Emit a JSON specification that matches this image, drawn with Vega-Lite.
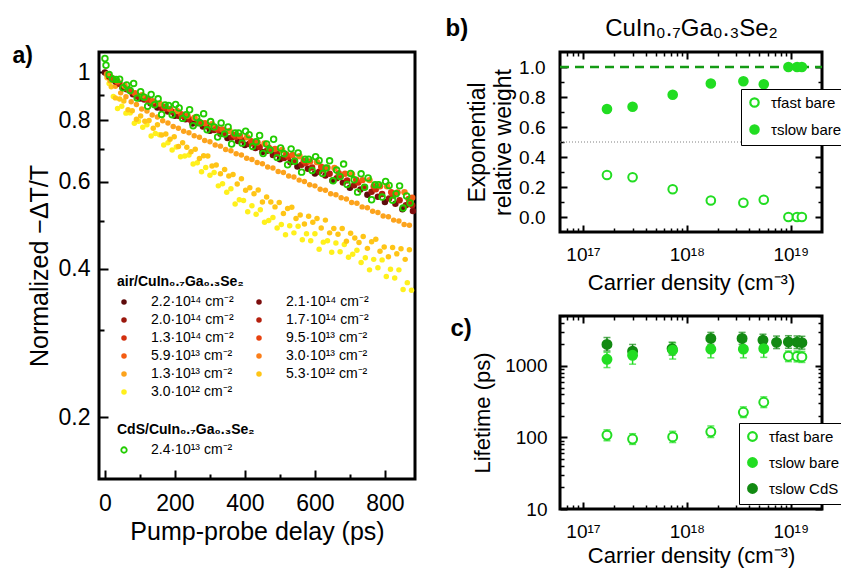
{
"$schema": "https://vega.github.io/schema/vega-lite/v6.json",
"background": "white",
"padding": {"left": 10, "top": 14, "right": 2, "bottom": 2},
"datasets": {
"air": [
{"s":"3.0e12","t":0,"v":1.0},{"s":"3.0e12","t":12,"v":0.95},{"s":"3.0e12","t":24,"v":0.894},{"s":"3.0e12","t":36,"v":0.845},{"s":"3.0e12","t":48,"v":0.854},{"s":"3.0e12","t":60,"v":0.827},{"s":"3.0e12","t":72,"v":0.828},{"s":"3.0e12","t":84,"v":0.789},{"s":"3.0e12","t":96,"v":0.796},{"s":"3.0e12","t":108,"v":0.774},{"s":"3.0e12","t":120,"v":0.783},{"s":"3.0e12","t":132,"v":0.743},{"s":"3.0e12","t":144,"v":0.752},{"s":"3.0e12","t":156,"v":0.748},{"s":"3.0e12","t":168,"v":0.713},{"s":"3.0e12","t":180,"v":0.72},{"s":"3.0e12","t":192,"v":0.696},{"s":"3.0e12","t":204,"v":0.706},{"s":"3.0e12","t":216,"v":0.675},{"s":"3.0e12","t":228,"v":0.677},{"s":"3.0e12","t":240,"v":0.68},{"s":"3.0e12","t":252,"v":0.652},{"s":"3.0e12","t":264,"v":0.656},{"s":"3.0e12","t":276,"v":0.629},{"s":"3.0e12","t":288,"v":0.642},{"s":"3.0e12","t":300,"v":0.619},{"s":"3.0e12","t":312,"v":0.627},{"s":"3.0e12","t":324,"v":0.589},{"s":"3.0e12","t":336,"v":0.595},{"s":"3.0e12","t":348,"v":0.572},{"s":"3.0e12","t":360,"v":0.581},{"s":"3.0e12","t":372,"v":0.541},{"s":"3.0e12","t":384,"v":0.552},{"s":"3.0e12","t":396,"v":0.55},{"s":"3.0e12","t":408,"v":0.522},{"s":"3.0e12","t":420,"v":0.537},{"s":"3.0e12","t":432,"v":0.516},{"s":"3.0e12","t":444,"v":0.527},{"s":"3.0e12","t":456,"v":0.497},{"s":"3.0e12","t":468,"v":0.501},{"s":"3.0e12","t":480,"v":0.508},{"s":"3.0e12","t":492,"v":0.484},{"s":"3.0e12","t":504,"v":0.492},{"s":"3.0e12","t":516,"v":0.469},{"s":"3.0e12","t":528,"v":0.489},{"s":"3.0e12","t":540,"v":0.473},{"s":"3.0e12","t":552,"v":0.488},{"s":"3.0e12","t":564,"v":0.458},{"s":"3.0e12","t":576,"v":0.471},{"s":"3.0e12","t":588,"v":0.456},{"s":"3.0e12","t":600,"v":0.471},{"s":"3.0e12","t":612,"v":0.438},{"s":"3.0e12","t":624,"v":0.453},{"s":"3.0e12","t":636,"v":0.456},{"s":"3.0e12","t":648,"v":0.432},{"s":"3.0e12","t":660,"v":0.451},{"s":"3.0e12","t":672,"v":0.433},{"s":"3.0e12","t":684,"v":0.448},{"s":"3.0e12","t":696,"v":0.422},{"s":"3.0e12","t":708,"v":0.428},{"s":"3.0e12","t":720,"v":0.436},{"s":"3.0e12","t":732,"v":0.412},{"s":"3.0e12","t":744,"v":0.421},{"s":"3.0e12","t":756,"v":0.398},{"s":"3.0e12","t":768,"v":0.418},{"s":"3.0e12","t":780,"v":0.402},{"s":"3.0e12","t":792,"v":0.417},{"s":"3.0e12","t":804,"v":0.386},{"s":"3.0e12","t":816,"v":0.399},{"s":"3.0e12","t":828,"v":0.383},{"s":"3.0e12","t":840,"v":0.398},{"s":"3.0e12","t":852,"v":0.363},{"s":"3.0e12","t":864,"v":0.375},{"s":"3.0e12","t":876,"v":0.362},
{"s":"5.3e12","t":6,"v":0.975},{"s":"5.3e12","t":18,"v":0.935},{"s":"5.3e12","t":30,"v":0.888},{"s":"5.3e12","t":42,"v":0.883},{"s":"5.3e12","t":54,"v":0.875},{"s":"5.3e12","t":66,"v":0.84},{"s":"5.3e12","t":78,"v":0.836},{"s":"5.3e12","t":90,"v":0.804},{"s":"5.3e12","t":102,"v":0.816},{"s":"5.3e12","t":114,"v":0.796},{"s":"5.3e12","t":126,"v":0.799},{"s":"5.3e12","t":138,"v":0.771},{"s":"5.3e12","t":150,"v":0.783},{"s":"5.3e12","t":162,"v":0.747},{"s":"5.3e12","t":174,"v":0.75},{"s":"5.3e12","t":186,"v":0.732},{"s":"5.3e12","t":198,"v":0.741},{"s":"5.3e12","t":210,"v":0.708},{"s":"5.3e12","t":222,"v":0.72},{"s":"5.3e12","t":234,"v":0.705},{"s":"5.3e12","t":246,"v":0.691},{"s":"5.3e12","t":258,"v":0.699},{"s":"5.3e12","t":270,"v":0.669},{"s":"5.3e12","t":282,"v":0.678},{"s":"5.3e12","t":294,"v":0.677},{"s":"5.3e12","t":306,"v":0.646},{"s":"5.3e12","t":318,"v":0.649},{"s":"5.3e12","t":330,"v":0.623},{"s":"5.3e12","t":342,"v":0.636},{"s":"5.3e12","t":354,"v":0.617},{"s":"5.3e12","t":366,"v":0.621},{"s":"5.3e12","t":378,"v":0.594},{"s":"5.3e12","t":390,"v":0.609},{"s":"5.3e12","t":402,"v":0.577},{"s":"5.3e12","t":414,"v":0.584},{"s":"5.3e12","t":426,"v":0.568},{"s":"5.3e12","t":438,"v":0.578},{"s":"5.3e12","t":450,"v":0.546},{"s":"5.3e12","t":462,"v":0.559},{"s":"5.3e12","t":474,"v":0.546},{"s":"5.3e12","t":486,"v":0.534},{"s":"5.3e12","t":498,"v":0.545},{"s":"5.3e12","t":510,"v":0.518},{"s":"5.3e12","t":522,"v":0.53},{"s":"5.3e12","t":534,"v":0.533},{"s":"5.3e12","t":546,"v":0.506},{"s":"5.3e12","t":558,"v":0.514},{"s":"5.3e12","t":570,"v":0.493},{"s":"5.3e12","t":582,"v":0.511},{"s":"5.3e12","t":594,"v":0.497},{"s":"5.3e12","t":606,"v":0.506},{"s":"5.3e12","t":618,"v":0.484},{"s":"5.3e12","t":630,"v":0.502},{"s":"5.3e12","t":642,"v":0.473},{"s":"5.3e12","t":654,"v":0.483},{"s":"5.3e12","t":666,"v":0.47},{"s":"5.3e12","t":678,"v":0.483},{"s":"5.3e12","t":690,"v":0.455},{"s":"5.3e12","t":702,"v":0.472},{"s":"5.3e12","t":714,"v":0.462},{"s":"5.3e12","t":726,"v":0.452},{"s":"5.3e12","t":738,"v":0.465},{"s":"5.3e12","t":750,"v":0.44},{"s":"5.3e12","t":762,"v":0.454},{"s":"5.3e12","t":774,"v":0.459},{"s":"5.3e12","t":786,"v":0.434},{"s":"5.3e12","t":798,"v":0.443},{"s":"5.3e12","t":810,"v":0.423},{"s":"5.3e12","t":822,"v":0.442},{"s":"5.3e12","t":834,"v":0.429},{"s":"5.3e12","t":846,"v":0.439},{"s":"5.3e12","t":858,"v":0.418},{"s":"5.3e12","t":870,"v":0.437},
{"s":"1.3e13","t":0,"v":1.0},{"s":"1.3e13","t":15,"v":0.962},{"s":"1.3e13","t":30,"v":0.937},{"s":"1.3e13","t":45,"v":0.909},{"s":"1.3e13","t":60,"v":0.893},{"s":"1.3e13","t":75,"v":0.872},{"s":"1.3e13","t":90,"v":0.861},{"s":"1.3e13","t":105,"v":0.843},{"s":"1.3e13","t":120,"v":0.835},{"s":"1.3e13","t":135,"v":0.82},{"s":"1.3e13","t":150,"v":0.812},{"s":"1.3e13","t":165,"v":0.798},{"s":"1.3e13","t":180,"v":0.79},{"s":"1.3e13","t":195,"v":0.777},{"s":"1.3e13","t":210,"v":0.771},{"s":"1.3e13","t":225,"v":0.76},{"s":"1.3e13","t":240,"v":0.755},{"s":"1.3e13","t":255,"v":0.744},{"s":"1.3e13","t":270,"v":0.739},{"s":"1.3e13","t":285,"v":0.728},{"s":"1.3e13","t":300,"v":0.724},{"s":"1.3e13","t":315,"v":0.713},{"s":"1.3e13","t":330,"v":0.709},{"s":"1.3e13","t":345,"v":0.698},{"s":"1.3e13","t":360,"v":0.694},{"s":"1.3e13","t":375,"v":0.684},{"s":"1.3e13","t":390,"v":0.68},{"s":"1.3e13","t":405,"v":0.67},{"s":"1.3e13","t":420,"v":0.666},{"s":"1.3e13","t":435,"v":0.657},{"s":"1.3e13","t":450,"v":0.653},{"s":"1.3e13","t":465,"v":0.643},{"s":"1.3e13","t":480,"v":0.64},{"s":"1.3e13","t":495,"v":0.63},{"s":"1.3e13","t":510,"v":0.627},{"s":"1.3e13","t":525,"v":0.617},{"s":"1.3e13","t":540,"v":0.614},{"s":"1.3e13","t":555,"v":0.605},{"s":"1.3e13","t":570,"v":0.601},{"s":"1.3e13","t":585,"v":0.592},{"s":"1.3e13","t":600,"v":0.589},{"s":"1.3e13","t":615,"v":0.58},{"s":"1.3e13","t":630,"v":0.577},{"s":"1.3e13","t":645,"v":0.568},{"s":"1.3e13","t":660,"v":0.565},{"s":"1.3e13","t":675,"v":0.557},{"s":"1.3e13","t":690,"v":0.554},{"s":"1.3e13","t":705,"v":0.545},{"s":"1.3e13","t":720,"v":0.543},{"s":"1.3e13","t":735,"v":0.534},{"s":"1.3e13","t":750,"v":0.532},{"s":"1.3e13","t":765,"v":0.523},{"s":"1.3e13","t":780,"v":0.52},{"s":"1.3e13","t":795,"v":0.512},{"s":"1.3e13","t":810,"v":0.51},{"s":"1.3e13","t":825,"v":0.502},{"s":"1.3e13","t":840,"v":0.5},{"s":"1.3e13","t":855,"v":0.492},{"s":"1.3e13","t":870,"v":0.49},
{"s":"2.2e14","t":0,"v":1.0},{"s":"2.2e14","t":50,"v":0.932},{"s":"2.2e14","t":100,"v":0.885},{"s":"2.2e14","t":150,"v":0.849},{"s":"2.2e14","t":200,"v":0.817},{"s":"2.2e14","t":250,"v":0.788},{"s":"2.2e14","t":300,"v":0.762},{"s":"2.2e14","t":350,"v":0.736},{"s":"2.2e14","t":400,"v":0.713},{"s":"2.2e14","t":450,"v":0.69},{"s":"2.2e14","t":500,"v":0.667},{"s":"2.2e14","t":550,"v":0.645},{"s":"2.2e14","t":600,"v":0.624},{"s":"2.2e14","t":650,"v":0.604},{"s":"2.2e14","t":700,"v":0.584},{"s":"2.2e14","t":750,"v":0.565},{"s":"2.2e14","t":800,"v":0.546},{"s":"2.2e14","t":850,"v":0.528},
{"s":"2.1e14","t":30,"v":0.958},{"s":"2.1e14","t":80,"v":0.903},{"s":"2.1e14","t":130,"v":0.866},{"s":"2.1e14","t":180,"v":0.833},{"s":"2.1e14","t":230,"v":0.804},{"s":"2.1e14","t":280,"v":0.777},{"s":"2.1e14","t":330,"v":0.751},{"s":"2.1e14","t":380,"v":0.726},{"s":"2.1e14","t":430,"v":0.703},{"s":"2.1e14","t":480,"v":0.68},{"s":"2.1e14","t":530,"v":0.658},{"s":"2.1e14","t":580,"v":0.638},{"s":"2.1e14","t":630,"v":0.618},{"s":"2.1e14","t":680,"v":0.598},{"s":"2.1e14","t":730,"v":0.579},{"s":"2.1e14","t":780,"v":0.56},{"s":"2.1e14","t":830,"v":0.542},{"s":"2.1e14","t":880,"v":0.524},
{"s":"2.0e14","t":12,"v":0.981},{"s":"2.0e14","t":62,"v":0.924},{"s":"2.0e14","t":112,"v":0.881},{"s":"2.0e14","t":162,"v":0.847},{"s":"2.0e14","t":212,"v":0.816},{"s":"2.0e14","t":262,"v":0.789},{"s":"2.0e14","t":312,"v":0.764},{"s":"2.0e14","t":362,"v":0.738},{"s":"2.0e14","t":412,"v":0.716},{"s":"2.0e14","t":462,"v":0.693},{"s":"2.0e14","t":512,"v":0.671},{"s":"2.0e14","t":562,"v":0.65},{"s":"2.0e14","t":612,"v":0.629},{"s":"2.0e14","t":662,"v":0.61},{"s":"2.0e14","t":712,"v":0.591},{"s":"2.0e14","t":762,"v":0.573},{"s":"2.0e14","t":812,"v":0.555},{"s":"2.0e14","t":860,"v":0.538},
{"s":"1.7e14","t":42,"v":0.947},{"s":"1.7e14","t":92,"v":0.894},{"s":"1.7e14","t":142,"v":0.862},{"s":"1.7e14","t":192,"v":0.832},{"s":"1.7e14","t":242,"v":0.803},{"s":"1.7e14","t":292,"v":0.777},{"s":"1.7e14","t":342,"v":0.752},{"s":"1.7e14","t":392,"v":0.729},{"s":"1.7e14","t":442,"v":0.706},{"s":"1.7e14","t":492,"v":0.684},{"s":"1.7e14","t":542,"v":0.663},{"s":"1.7e14","t":592,"v":0.642},{"s":"1.7e14","t":642,"v":0.623},{"s":"1.7e14","t":692,"v":0.604},{"s":"1.7e14","t":742,"v":0.585},{"s":"1.7e14","t":792,"v":0.567},{"s":"1.7e14","t":842,"v":0.551},{"s":"1.7e14","t":878,"v":0.538},
{"s":"1.3e14","t":24,"v":0.969},{"s":"1.3e14","t":74,"v":0.915},{"s":"1.3e14","t":124,"v":0.877},{"s":"1.3e14","t":174,"v":0.845},{"s":"1.3e14","t":224,"v":0.816},{"s":"1.3e14","t":274,"v":0.79},{"s":"1.3e14","t":324,"v":0.765},{"s":"1.3e14","t":374,"v":0.741},{"s":"1.3e14","t":424,"v":0.719},{"s":"1.3e14","t":474,"v":0.697},{"s":"1.3e14","t":524,"v":0.675},{"s":"1.3e14","t":574,"v":0.655},{"s":"1.3e14","t":624,"v":0.636},{"s":"1.3e14","t":674,"v":0.617},{"s":"1.3e14","t":724,"v":0.598},{"s":"1.3e14","t":774,"v":0.58},{"s":"1.3e14","t":824,"v":0.563},{"s":"1.3e14","t":870,"v":0.547},
{"s":"9.5e13","t":18,"v":0.976},{"s":"9.5e13","t":68,"v":0.923},{"s":"9.5e13","t":118,"v":0.885},{"s":"9.5e13","t":168,"v":0.852},{"s":"9.5e13","t":218,"v":0.823},{"s":"9.5e13","t":268,"v":0.795},{"s":"9.5e13","t":318,"v":0.771},{"s":"9.5e13","t":368,"v":0.748},{"s":"9.5e13","t":418,"v":0.725},{"s":"9.5e13","t":468,"v":0.704},{"s":"9.5e13","t":518,"v":0.682},{"s":"9.5e13","t":568,"v":0.662},{"s":"9.5e13","t":618,"v":0.644},{"s":"9.5e13","t":668,"v":0.625},{"s":"9.5e13","t":718,"v":0.606},{"s":"9.5e13","t":768,"v":0.588},{"s":"9.5e13","t":818,"v":0.572},{"s":"9.5e13","t":868,"v":0.554},
{"s":"5.9e13","t":36,"v":0.959},{"s":"5.9e13","t":86,"v":0.907},{"s":"5.9e13","t":136,"v":0.874},{"s":"5.9e13","t":186,"v":0.843},{"s":"5.9e13","t":236,"v":0.816},{"s":"5.9e13","t":286,"v":0.789},{"s":"5.9e13","t":336,"v":0.766},{"s":"5.9e13","t":386,"v":0.743},{"s":"5.9e13","t":436,"v":0.721},{"s":"5.9e13","t":486,"v":0.7},{"s":"5.9e13","t":536,"v":0.68},{"s":"5.9e13","t":586,"v":0.66},{"s":"5.9e13","t":636,"v":0.641},{"s":"5.9e13","t":686,"v":0.623},{"s":"5.9e13","t":736,"v":0.605},{"s":"5.9e13","t":786,"v":0.588},{"s":"5.9e13","t":836,"v":0.571},{"s":"5.9e13","t":878,"v":0.557},
{"s":"3.0e13","t":6,"v":0.992},{"s":"3.0e13","t":56,"v":0.94},{"s":"3.0e13","t":106,"v":0.899},{"s":"3.0e13","t":156,"v":0.865},{"s":"3.0e13","t":206,"v":0.835},{"s":"3.0e13","t":256,"v":0.809},{"s":"3.0e13","t":306,"v":0.785},{"s":"3.0e13","t":356,"v":0.761},{"s":"3.0e13","t":406,"v":0.739},{"s":"3.0e13","t":456,"v":0.718},{"s":"3.0e13","t":506,"v":0.696},{"s":"3.0e13","t":556,"v":0.676},{"s":"3.0e13","t":606,"v":0.658},{"s":"3.0e13","t":656,"v":0.64},{"s":"3.0e13","t":706,"v":0.622},{"s":"3.0e13","t":756,"v":0.605},{"s":"3.0e13","t":806,"v":0.588},{"s":"3.0e13","t":856,"v":0.572}
],
"cds": [
{"s":"2.4e13","t":0,"v":1.067},{"s":"2.4e13","t":3,"v":1.034},{"s":"2.4e13","t":12,"v":0.99},{"s":"2.4e13","t":22,"v":0.97},{"s":"2.4e13","t":32,"v":0.968},{"s":"2.4e13","t":42,"v":0.969},{"s":"2.4e13","t":52,"v":0.931},{"s":"2.4e13","t":62,"v":0.943},{"s":"2.4e13","t":72,"v":0.919},{"s":"2.4e13","t":82,"v":0.95},{"s":"2.4e13","t":92,"v":0.887},{"s":"2.4e13","t":102,"v":0.914},{"s":"2.4e13","t":112,"v":0.891},{"s":"2.4e13","t":122,"v":0.854},{"s":"2.4e13","t":132,"v":0.902},{"s":"2.4e13","t":142,"v":0.86},{"s":"2.4e13","t":152,"v":0.884},{"s":"2.4e13","t":162,"v":0.822},{"s":"2.4e13","t":172,"v":0.859},{"s":"2.4e13","t":182,"v":0.857},{"s":"2.4e13","t":192,"v":0.821},{"s":"2.4e13","t":202,"v":0.861},{"s":"2.4e13","t":212,"v":0.847},{"s":"2.4e13","t":222,"v":0.807},{"s":"2.4e13","t":232,"v":0.821},{"s":"2.4e13","t":242,"v":0.84},{"s":"2.4e13","t":252,"v":0.78},{"s":"2.4e13","t":262,"v":0.81},{"s":"2.4e13","t":272,"v":0.79},{"s":"2.4e13","t":282,"v":0.825},{"s":"2.4e13","t":292,"v":0.765},{"s":"2.4e13","t":302,"v":0.795},{"s":"2.4e13","t":312,"v":0.775},{"s":"2.4e13","t":322,"v":0.74},{"s":"2.4e13","t":332,"v":0.79},{"s":"2.4e13","t":342,"v":0.75},{"s":"2.4e13","t":352,"v":0.775},{"s":"2.4e13","t":362,"v":0.716},{"s":"2.4e13","t":372,"v":0.754},{"s":"2.4e13","t":382,"v":0.754},{"s":"2.4e13","t":392,"v":0.719},{"s":"2.4e13","t":402,"v":0.76},{"s":"2.4e13","t":412,"v":0.748},{"s":"2.4e13","t":422,"v":0.708},{"s":"2.4e13","t":432,"v":0.724},{"s":"2.4e13","t":442,"v":0.745},{"s":"2.4e13","t":452,"v":0.685},{"s":"2.4e13","t":462,"v":0.716},{"s":"2.4e13","t":472,"v":0.696},{"s":"2.4e13","t":482,"v":0.732},{"s":"2.4e13","t":492,"v":0.672},{"s":"2.4e13","t":502,"v":0.703},{"s":"2.4e13","t":512,"v":0.684},{"s":"2.4e13","t":522,"v":0.65},{"s":"2.4e13","t":532,"v":0.7},{"s":"2.4e13","t":542,"v":0.661},{"s":"2.4e13","t":552,"v":0.687},{"s":"2.4e13","t":562,"v":0.628},{"s":"2.4e13","t":572,"v":0.667},{"s":"2.4e13","t":582,"v":0.667},{"s":"2.4e13","t":592,"v":0.633},{"s":"2.4e13","t":602,"v":0.675},{"s":"2.4e13","t":612,"v":0.663},{"s":"2.4e13","t":622,"v":0.624},{"s":"2.4e13","t":632,"v":0.64},{"s":"2.4e13","t":642,"v":0.662},{"s":"2.4e13","t":652,"v":0.603},{"s":"2.4e13","t":662,"v":0.634},{"s":"2.4e13","t":672,"v":0.615},{"s":"2.4e13","t":682,"v":0.652},{"s":"2.4e13","t":692,"v":0.593},{"s":"2.4e13","t":702,"v":0.624},{"s":"2.4e13","t":712,"v":0.606},{"s":"2.4e13","t":722,"v":0.572},{"s":"2.4e13","t":732,"v":0.623},{"s":"2.4e13","t":742,"v":0.585},{"s":"2.4e13","t":752,"v":0.611},{"s":"2.4e13","t":762,"v":0.552},{"s":"2.4e13","t":772,"v":0.592},{"s":"2.4e13","t":782,"v":0.592},{"s":"2.4e13","t":792,"v":0.559},{"s":"2.4e13","t":802,"v":0.601},{"s":"2.4e13","t":812,"v":0.59},{"s":"2.4e13","t":822,"v":0.551},{"s":"2.4e13","t":832,"v":0.568},{"s":"2.4e13","t":842,"v":0.589},{"s":"2.4e13","t":852,"v":0.531},{"s":"2.4e13","t":862,"v":0.562},{"s":"2.4e13","t":872,"v":0.544}
],
"weights": [
{"n":1.7e17,"w":0.28,"s":"τfast bare"},{"n":3.0e17,"w":0.265,"s":"τfast bare"},{"n":7.3e17,"w":0.185,"s":"τfast bare"},{"n":1.7e18,"w":0.11,"s":"τfast bare"},{"n":3.5e18,"w":0.095,"s":"τfast bare"},{"n":5.5e18,"w":0.115,"s":"τfast bare"},{"n":9.5e18,"w":0,"s":"τfast bare"},{"n":1.15e19,"w":0,"s":"τfast bare"},{"n":1.28e19,"w":0,"s":"τfast bare"},
{"n":1.7e17,"w":0.72,"s":"τslow bare"},{"n":3.0e17,"w":0.735,"s":"τslow bare"},{"n":7.3e17,"w":0.815,"s":"τslow bare"},{"n":1.7e18,"w":0.89,"s":"τslow bare"},{"n":3.5e18,"w":0.905,"s":"τslow bare"},{"n":5.5e18,"w":0.885,"s":"τslow bare"},{"n":9.5e18,"w":1,"s":"τslow bare"},{"n":1.15e19,"w":1,"s":"τslow bare"},{"n":1.28e19,"w":1,"s":"τslow bare"}
],
"life": [
{"n":1.7e17,"l":108,"lo":90,"hi":128,"s":"τfast bare"},{"n":3.0e17,"l":95,"lo":80,"hi":113,"s":"τfast bare"},{"n":7.3e17,"l":102,"lo":85,"hi":122,"s":"τfast bare"},{"n":1.7e18,"l":120,"lo":100,"hi":145,"s":"τfast bare"},{"n":3.5e18,"l":225,"lo":190,"hi":268,"s":"τfast bare"},{"n":5.5e18,"l":311,"lo":262,"hi":370,"s":"τfast bare"},{"n":9.5e18,"l":1370,"lo":1150,"hi":1620,"s":"τfast bare"},{"n":1.15e19,"l":1360,"lo":1140,"hi":1620,"s":"τfast bare"},{"n":1.28e19,"l":1340,"lo":1120,"hi":1600,"s":"τfast bare"},
{"n":1.7e17,"l":1240,"lo":950,"hi":1550,"s":"τslow bare"},{"n":3.0e17,"l":1410,"lo":1060,"hi":1800,"s":"τslow bare"},{"n":7.3e17,"l":1660,"lo":1250,"hi":2100,"s":"τslow bare"},{"n":1.7e18,"l":1720,"lo":1300,"hi":2180,"s":"τslow bare"},{"n":3.5e18,"l":1720,"lo":1300,"hi":2200,"s":"τslow bare"},{"n":5.5e18,"l":1750,"lo":1320,"hi":2220,"s":"τslow bare"},
{"n":1.7e17,"l":2000,"lo":1620,"hi":2500,"s":"τslow CdS"},{"n":3.0e17,"l":1610,"lo":1300,"hi":2000,"s":"τslow CdS"},{"n":7.2e17,"l":1750,"lo":1420,"hi":2150,"s":"τslow CdS"},{"n":1.7e18,"l":2430,"lo":2000,"hi":2950,"s":"τslow CdS"},{"n":3.4e18,"l":2430,"lo":2000,"hi":2950,"s":"τslow CdS"},{"n":5.4e18,"l":2300,"lo":1900,"hi":2780,"s":"τslow CdS"},{"n":7.3e18,"l":2140,"lo":1750,"hi":2620,"s":"τslow CdS"},{"n":9.5e18,"l":2170,"lo":1770,"hi":2650,"s":"τslow CdS"},{"n":1.15e19,"l":2150,"lo":1750,"hi":2630,"s":"τslow CdS"},{"n":1.28e19,"l":2120,"lo":1720,"hi":2600,"s":"τslow CdS"}
]
},
"resolve": {"scale": {"color": "independent", "stroke": "independent", "fill": "independent"}, "legend": {"color": "independent", "stroke": "independent", "fill": "independent"}},
"columns": 2,
"align": "none",
"spacing": 24,
"concat": [
{
"width": 316, "height": 427,
"layer": [
{"data": {"name": "air"}, "transform": [{"filter": "datum.s == '3.0e12' || datum.s == '5.3e12' || datum.s == '1.3e13'"}],
 "mark": {"type": "circle", "size": 30, "opacity": 1},
 "encoding": {
  "x": {"field": "t", "type": "quantitative", "axis": {"orient": "bottom", "values": [100,300,500,700], "labels": false, "title": null, "tickSize": -5}},
  "y": {"field": "v", "type": "quantitative", "axis": {"orient": "left", "values": [0.3,0.5,0.7,0.9], "labels": false, "title": null, "tickSize": -5}},
  "color": {"field": "s", "type": "nominal",
    "scale": {"domain": ["2.2e14","2.0e14","1.3e14","5.9e13","1.3e13","3.0e12","2.1e14","1.7e14","9.5e13","3.0e13","5.3e12"],
      "range": ["#5e0b0b","#9a170c","#d3300f","#f45c12","#fca31c","#fff01c","#7c0d0d","#b5200e","#e8420f","#fb7e19","#ffc516"]},
    "legend": {"orient": "none", "legendX": 18, "legendY": 223, "columns": 2, "title": "air/CuIn₀.₇Ga₀.₃Se₂",
      "titleFontSize": 14, "titleFontWeight": "bold", "labelFontSize": 14, "symbolSize": 30, "symbolType": "circle",
      "rowPadding": 4, "columnPadding": 18, "labelOffset": 20, "titlePadding": 6, "padding": 0, "labelLimit": 200,
      "labelExpr": "replace(replace(replace(datum.label, 'e14', '·10¹⁴'), 'e13', '·10¹³'), 'e12', '·10¹²') + ' cm⁻²'"}}
 }},
{"data": {"name": "air"}, "transform": [{"filter": "datum.s != '3.0e12' && datum.s != '5.3e12' && datum.s != '1.3e13'"}],
 "mark": {"type": "circle", "size": 42, "opacity": 1},
 "encoding": {
  "x": {"field": "t", "type": "quantitative", "scale": {"domain": [-17, 886], "nice": false, "zero": false},
    "axis": {"orient": "bottom", "values": [0,200,400,600,800], "format": "d", "tickSize": -9,
      "labelPadding": 22, "labelFontSize": 23, "title": "Pump-probe delay (ps)", "titleFontSize": 25, "titlePadding": 4}},
  "y": {"field": "v", "type": "quantitative", "scale": {"type": "log", "domain": [0.15, 1.1], "nice": false},
    "axis": {"orient": "left", "values": [0.2,0.4,0.6,0.8,1], "labelExpr": "datum.value == 1 ? '1' : format(datum.value, '.1f')", "tickSize": -9,
      "labelPadding": 18, "labelFontSize": 23, "title": "Normalized −ΔT/T", "titleFontSize": 25, "titlePadding": 6}},
  "color": {"field": "s", "type": "nominal",
    "scale": {"domain": ["2.2e14","2.0e14","1.3e14","5.9e13","1.3e13","3.0e12","2.1e14","1.7e14","9.5e13","3.0e13","5.3e12"],
      "range": ["#5e0b0b","#9a170c","#d3300f","#f45c12","#fca31c","#fff01c","#7c0d0d","#b5200e","#e8420f","#fb7e19","#ffc516"]},
    "legend": {"orient": "none", "legendX": 18, "legendY": 223, "columns": 2, "title": "air/CuIn₀.₇Ga₀.₃Se₂",
      "titleFontSize": 14, "titleFontWeight": "bold", "labelFontSize": 14, "symbolSize": 30, "symbolType": "circle",
      "rowPadding": 4, "columnPadding": 18, "labelOffset": 20, "titlePadding": 6, "padding": 0, "labelLimit": 200,
      "labelExpr": "replace(replace(replace(datum.label, 'e14', '·10¹⁴'), 'e13', '·10¹³'), 'e12', '·10¹²') + ' cm⁻²'"}}
 }},
{"data": {"name": "cds"}, "mark": {"type": "point", "shape": "circle", "filled": false, "size": 32, "strokeWidth": 1.8, "opacity": 1},
 "encoding": {
  "x": {"field": "t", "type": "quantitative",
    "axis": {"orient": "top", "ticks": false, "labels": false, "title": "a)", "titleX": -87, "titleY": 10, "titleAngle": 0,
      "titleAlign": "left", "titleBaseline": "alphabetic", "titleFontSize": 23, "titleFontWeight": "bold"}},
  "y": {"field": "v", "type": "quantitative", "axis": null},
  "stroke": {"field": "s", "type": "nominal", "scale": {"domain": ["2.4e13"], "range": ["#22cc00"]},
    "legend": {"orient": "none", "legendX": 18, "legendY": 371, "title": "CdS/CuIn₀.₇Ga₀.₃Se₂",
      "titleFontSize": 14, "titleFontWeight": "bold", "labelFontSize": 14, "symbolSize": 30, "symbolType": "circle", "symbolStrokeWidth": 1.8,
      "labelOffset": 20, "titlePadding": 6, "padding": 0,
      "labelExpr": "replace(datum.label, 'e13', '·10¹³') + ' cm⁻²'"}}
 }}
],
"resolve": {"axis": {"x": "independent", "y": "independent"}}
},
{
"spacing": 18,
"resolve": {"scale": {"color": "independent", "stroke": "independent", "fill": "independent"}, "legend": {"color": "independent", "stroke": "independent", "fill": "independent"}},
"vconcat": [
{
"width": 262, "height": 180,
"layer": [
{"data": {"values": [{}]}, "mark": {"type": "rule", "strokeDash": [9, 6], "strokeWidth": 2.5, "color": "#139a13"},
 "encoding": {
  "x": {"datum": 6e16, "type": "quantitative",
    "axis": {"orient": "bottom", "values": [7e16,8e16,9e16,2e17,3e17,4e17,5e17,6e17,7e17,8e17,9e17,2e18,3e18,4e18,5e18,6e18,7e18,8e18,9e18], "labels": false, "title": null, "tickSize": -4, "tickWidth": 1.5}},
  "x2": {"datum": 2e19},
  "y": {"datum": 1, "type": "quantitative",
    "axis": {"orient": "right", "values": [0,0.2,0.4,0.6,0.8,1], "tickSize": -7, "labels": false, "title": "b)", "titleX": -377, "titleY": -17, "titleAngle": 0,
      "titleAlign": "left", "titleBaseline": "alphabetic", "titleFontSize": 24, "titleFontWeight": "bold"}}}},
{"data": {"values": [{}]}, "mark": {"type": "rule", "strokeDash": [1, 2], "strokeWidth": 1, "color": "#808080"},
 "encoding": {
  "x": {"datum": 6e16, "type": "quantitative",
    "axis": {"orient": "top", "values": [7e16,8e16,9e16,2e17,3e17,4e17,5e17,6e17,7e17,8e17,9e17,2e18,3e18,4e18,5e18,6e18,7e18,8e18,9e18], "labels": false, "title": null, "tickSize": -4, "tickWidth": 1.5}},
  "x2": {"datum": 2e19},
  "y": {"datum": 0.5, "type": "quantitative",
    "axis": {"orient": "left", "values": [0.1,0.3,0.5,0.7,0.9], "labels": false, "title": null, "tickSize": -4, "tickWidth": 1.5}}}},
{"data": {"name": "weights"}, "transform": [{"filter": "datum.s == 'τslow bare'"}],
 "mark": {"type": "point", "shape": "circle", "size": 75, "strokeWidth": 2, "opacity": 1},
 "encoding": {
  "x": {"field": "n", "type": "quantitative",
    "axis": {"orient": "top", "values": [1e17,1e18,1e19], "labels": false, "tickSize": -7,
      "title": "CuIn₀.₇Ga₀.₃Se₂", "titleX": 131, "titleY": -17, "titleAlign": "center", "titleBaseline": "alphabetic", "titleFontSize": 24, "titleFontWeight": "normal"}},
  "y": {"field": "w", "type": "quantitative",
    "axis": {"orient": "right", "values": [0.1,0.3,0.5,0.7,0.9], "labels": false, "title": null, "tickSize": -4, "tickWidth": 1.5}},
  "stroke": {"field": "s", "type": "nominal", "scale": {"domain": ["τfast bare", "τslow bare"], "range": ["#22dd22", "#22dd22"]},
    "legend": {"orient": "none", "legendX": 181, "legendY": 37, "title": null, "labelFontSize": 15, "symbolType": "circle", "symbolSize": 70, "symbolStrokeWidth": 2.2, "padding": 6, "strokeColor": "black", "fillColor": "white", "rowPadding": 8, "labelOffset": 9}},
  "fill": {"field": "s", "type": "nominal", "scale": {"domain": ["τfast bare", "τslow bare"], "range": ["white", "#22dd22"]},
    "legend": {"orient": "none", "legendX": 181, "legendY": 37, "title": null, "labelFontSize": 15, "symbolType": "circle", "symbolSize": 70, "symbolStrokeWidth": 2.2, "padding": 6, "strokeColor": "black", "fillColor": "white", "rowPadding": 8, "labelOffset": 9}}
 }},
{"data": {"name": "weights"}, "transform": [{"filter": "datum.s == 'τfast bare'"}],
 "mark": {"type": "point", "shape": "circle", "size": 75, "strokeWidth": 2, "opacity": 1},
 "encoding": {
  "x": {"field": "n", "type": "quantitative", "scale": {"type": "log", "domain": [6e16, 2e19], "nice": false},
    "axis": {"orient": "bottom", "values": [1e17,1e18,1e19],
      "labelExpr": "datum.value == 1e17 ? '10¹⁷' : datum.value == 1e18 ? '10¹⁸' : '10¹⁹'", "tickSize": -7,
      "labelPadding": 20, "labelFontSize": 19, "title": "Carrier density (cm⁻³)", "titleFontSize": 22, "titlePadding": 8}},
  "y": {"field": "w", "type": "quantitative", "scale": {"domain": [-0.1, 1.1], "nice": false, "zero": false},
    "axis": {"orient": "left", "values": [0,0.2,0.4,0.6,0.8,1], "format": ".1f", "tickSize": -7,
      "labelPadding": 22, "labelFontSize": 19, "title": ["Exponential", "relative weight"], "titleFontSize": 23, "titleLineHeight": 26, "titlePadding": 3}},
  "stroke": {"field": "s", "type": "nominal", "scale": {"domain": ["τfast bare", "τslow bare"], "range": ["#22dd22", "#22dd22"]},
    "legend": {"orient": "none", "legendX": 181, "legendY": 37, "title": null, "labelFontSize": 15, "symbolType": "circle", "symbolSize": 70, "symbolStrokeWidth": 2.2, "padding": 6, "strokeColor": "black", "fillColor": "white", "rowPadding": 8, "labelOffset": 9}},
  "fill": {"field": "s", "type": "nominal", "scale": {"domain": ["τfast bare", "τslow bare"], "range": ["white", "#22dd22"]},
    "legend": {"orient": "none", "legendX": 181, "legendY": 37, "title": null, "labelFontSize": 15, "symbolType": "circle", "symbolSize": 70, "symbolStrokeWidth": 2.2, "padding": 6, "strokeColor": "black", "fillColor": "white", "rowPadding": 8, "labelOffset": 9}}
 }}
],
"resolve": {"axis": {"x": "independent", "y": "independent"}}
},
{
"width": 262, "height": 193,
"layer": [
{"data": {"name": "life"}, "mark": {"type": "rule", "strokeWidth": 1.5},
 "encoding": {
  "x": {"field": "n", "type": "quantitative",
    "axis": {"orient": "bottom", "values": [7e16,8e16,9e16,2e17,3e17,4e17,5e17,6e17,7e17,8e17,9e17,2e18,3e18,4e18,5e18,6e18,7e18,8e18,9e18], "labels": false, "title": null, "tickSize": -4, "tickWidth": 1.5}},
  "y": {"field": "lo", "type": "quantitative",
    "axis": {"orient": "left", "values": [20,30,40,50,60,70,80,90,200,300,400,500,600,700,800,900,2000,3000,4000,5000], "labels": false, "title": null, "tickSize": -4, "tickWidth": 1.5}},
  "y2": {"field": "hi"},
  "color": {"field": "s", "type": "nominal", "scale": {"domain": ["τslow CdS", "τfast bare", "τslow bare"], "range": ["#128a12", "#22dd22", "#22dd22"]}, "legend": null}}},
{"data": {"name": "life"}, "mark": {"type": "tick", "orient": "horizontal", "size": 7, "thickness": 1.5},
 "encoding": {
  "x": {"field": "n", "type": "quantitative",
    "axis": {"orient": "top", "values": [7e16,8e16,9e16,2e17,3e17,4e17,5e17,6e17,7e17,8e17,9e17,2e18,3e18,4e18,5e18,6e18,7e18,8e18,9e18], "labels": false, "title": null, "tickSize": -4, "tickWidth": 1.5}},
  "y": {"field": "lo", "type": "quantitative",
    "axis": {"orient": "right", "values": [20,30,40,50,60,70,80,90,200,300,400,500,600,700,800,900,2000,3000,4000,5000], "labels": false, "title": null, "tickSize": -4, "tickWidth": 1.5}},
  "color": {"field": "s", "type": "nominal", "legend": null}}},
{"data": {"name": "life"}, "mark": {"type": "tick", "orient": "horizontal", "size": 7, "thickness": 1.5},
 "encoding": {
  "x": {"field": "n", "type": "quantitative", "axis": null},
  "y": {"field": "hi", "type": "quantitative", "axis": null},
  "color": {"field": "s", "type": "nominal", "legend": null}}},
{"data": {"name": "life"}, "transform": [{"filter": "datum.s == 'τslow CdS'"}],
 "mark": {"type": "point", "shape": "circle", "size": 80, "strokeWidth": 2, "opacity": 1},
 "encoding": {
  "x": {"field": "n", "type": "quantitative",
    "axis": {"orient": "top", "values": [1e17,1e18,1e19], "labels": false, "tickSize": -7,
      "title": "c)", "titleX": -110, "titleY": 19, "titleAngle": 0, "titleAlign": "left", "titleBaseline": "alphabetic", "titleFontSize": 24, "titleFontWeight": "bold"}},
  "y": {"field": "l", "type": "quantitative",
    "axis": {"orient": "right", "values": [10,100,1000], "labels": false, "title": null, "tickSize": -7}},
  "stroke": {"field": "s", "type": "nominal", "scale": {"domain": ["τfast bare", "τslow bare", "τslow CdS"], "range": ["#22dd22", "#22dd22", "#128a12"]},
    "legend": {"orient": "none", "legendX": 179, "legendY": 107, "title": null, "labelFontSize": 15, "symbolType": "circle", "symbolSize": 75, "symbolStrokeWidth": 2.2, "padding": 6, "strokeColor": "black", "fillColor": "white", "rowPadding": 7, "labelOffset": 9}},
  "fill": {"field": "s", "type": "nominal", "scale": {"domain": ["τfast bare", "τslow bare", "τslow CdS"], "range": ["white", "#22dd22", "#128a12"]},
    "legend": {"orient": "none", "legendX": 179, "legendY": 107, "title": null, "labelFontSize": 15, "symbolType": "circle", "symbolSize": 75, "symbolStrokeWidth": 2.2, "padding": 6, "strokeColor": "black", "fillColor": "white", "rowPadding": 7, "labelOffset": 9}}
 }},
{"data": {"name": "life"}, "transform": [{"filter": "datum.s == 'τslow bare'"}],
 "mark": {"type": "point", "shape": "circle", "size": 80, "strokeWidth": 2, "opacity": 1},
 "encoding": {
  "x": {"field": "n", "type": "quantitative", "axis": null},
  "y": {"field": "l", "type": "quantitative", "axis": null},
  "stroke": {"field": "s", "type": "nominal", "scale": {"domain": ["τfast bare", "τslow bare", "τslow CdS"], "range": ["#22dd22", "#22dd22", "#128a12"]},
    "legend": {"orient": "none", "legendX": 179, "legendY": 107, "title": null, "labelFontSize": 15, "symbolType": "circle", "symbolSize": 75, "symbolStrokeWidth": 2.2, "padding": 6, "strokeColor": "black", "fillColor": "white", "rowPadding": 7, "labelOffset": 9}},
  "fill": {"field": "s", "type": "nominal", "scale": {"domain": ["τfast bare", "τslow bare", "τslow CdS"], "range": ["white", "#22dd22", "#128a12"]},
    "legend": {"orient": "none", "legendX": 179, "legendY": 107, "title": null, "labelFontSize": 15, "symbolType": "circle", "symbolSize": 75, "symbolStrokeWidth": 2.2, "padding": 6, "strokeColor": "black", "fillColor": "white", "rowPadding": 7, "labelOffset": 9}}
 }},
{"data": {"name": "life"}, "transform": [{"filter": "datum.s == 'τfast bare'"}],
 "mark": {"type": "point", "shape": "circle", "size": 80, "strokeWidth": 2, "opacity": 1},
 "encoding": {
  "x": {"field": "n", "type": "quantitative", "scale": {"type": "log", "domain": [6e16, 2e19], "nice": false},
    "axis": {"orient": "bottom", "values": [1e17,1e18,1e19],
      "labelExpr": "datum.value == 1e17 ? '10¹⁷' : datum.value == 1e18 ? '10¹⁸' : '10¹⁹'", "tickSize": -7,
      "labelPadding": 20, "labelFontSize": 19, "title": "Carrier density (cm⁻³)", "titleFontSize": 22, "titlePadding": 4}},
  "y": {"field": "l", "type": "quantitative", "scale": {"type": "log", "domain": [10, 5000], "nice": false},
    "axis": {"orient": "left", "values": [10,100,1000], "format": "d", "tickSize": -7,
      "labelPadding": 20, "labelFontSize": 19, "title": "Lifetime (ps)", "titleFontSize": 22, "titlePadding": 10}},
  "stroke": {"field": "s", "type": "nominal", "scale": {"domain": ["τfast bare", "τslow bare", "τslow CdS"], "range": ["#22dd22", "#22dd22", "#128a12"]},
    "legend": {"orient": "none", "legendX": 179, "legendY": 107, "title": null, "labelFontSize": 15, "symbolType": "circle", "symbolSize": 75, "symbolStrokeWidth": 2.2, "padding": 6, "strokeColor": "black", "fillColor": "white", "rowPadding": 7, "labelOffset": 9}},
  "fill": {"field": "s", "type": "nominal", "scale": {"domain": ["τfast bare", "τslow bare", "τslow CdS"], "range": ["white", "#22dd22", "#128a12"]},
    "legend": {"orient": "none", "legendX": 179, "legendY": 107, "title": null, "labelFontSize": 15, "symbolType": "circle", "symbolSize": 75, "symbolStrokeWidth": 2.2, "padding": 6, "strokeColor": "black", "fillColor": "white", "rowPadding": 7, "labelOffset": 9}}
 }}
],
"resolve": {"axis": {"x": "independent", "y": "independent"}}
}
]
}
],
"config": {
"font": "Liberation Sans",
"view": {"stroke": "black", "strokeWidth": 3},
"axis": {"domain": false, "grid": false, "tickColor": "black", "tickWidth": 2, "labelColor": "black", "titleColor": "black", "titleFontWeight": "normal", "labelFont": "Liberation Sans", "titleFont": "Liberation Sans", "labelOverlap": false, "labelFlush": false},
"legend": {"labelFont": "Liberation Sans", "titleFont": "Liberation Sans", "labelColor": "black", "titleColor": "black"},
"title": {"font": "Liberation Sans", "color": "black"}
}
}
